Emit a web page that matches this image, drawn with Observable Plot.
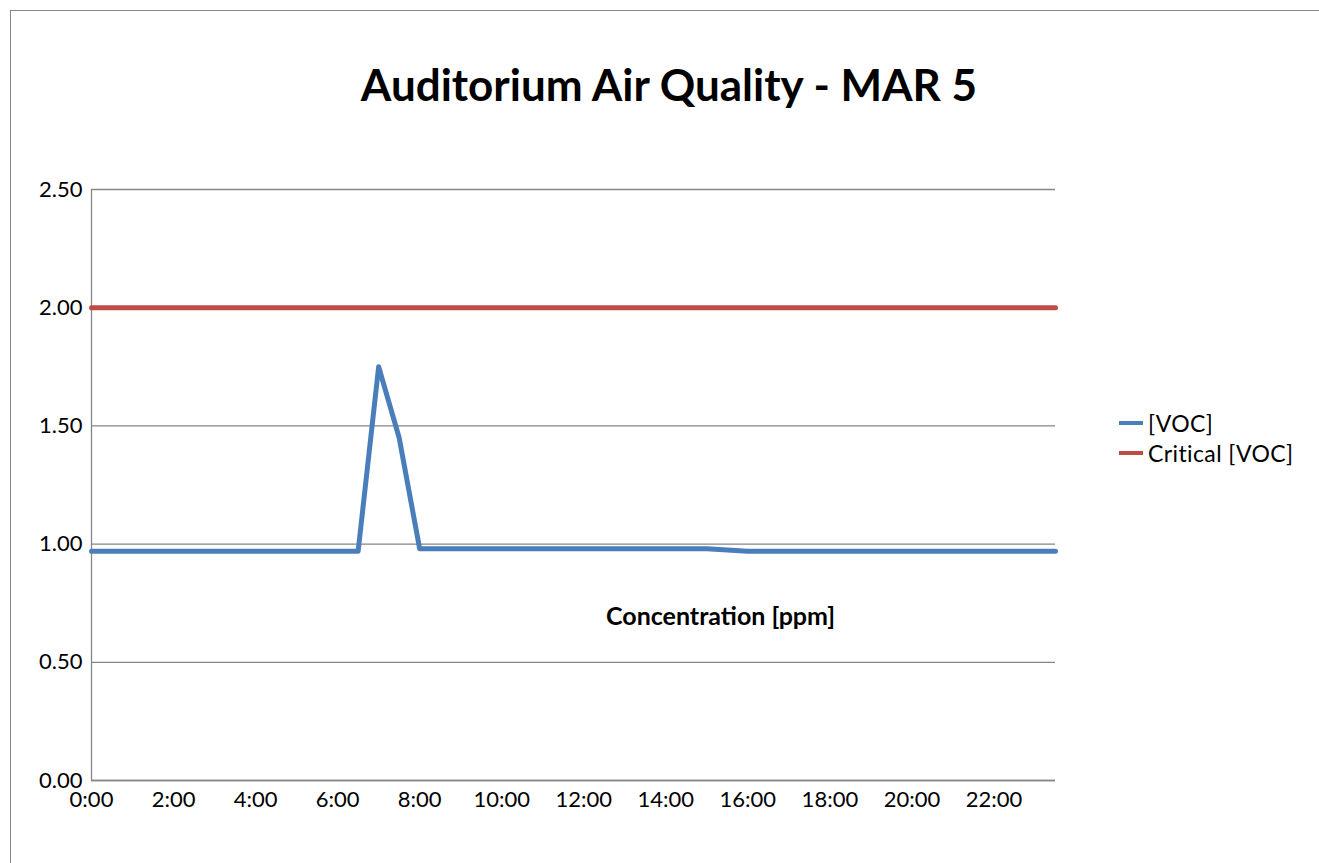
<!DOCTYPE html>
<html>
<head>
<meta charset="utf-8">
<script src="https://cdn.jsdelivr.net/npm/d3@7"></script>
<script src="https://cdn.jsdelivr.net/npm/@observablehq/plot@0.6"></script>
<style>
  html, body { margin: 0; padding: 0; background: #fff; }
  body { width: 1319px; height: 863px; position: relative; overflow: hidden; font-family: Lato, "Open Sans", sans-serif; }
  #frame { position: absolute; left: 10px; top: 10px; width: 1320px; height: 870px; border-left: 1px solid #868686; border-top: 1px solid #868686; }
  #chart { position: absolute; left: 0; top: 0; }
  #title { position: absolute; left: 0; width: 1338px; top: 58px; text-align: center; font-size: 44px; font-weight: bold; color: #000; }
  #ytitle { position: absolute; left: 606px; top: 600px; font-size: 25px; font-weight: bold; color: #000; }
  .leg { position: absolute; left: 1119px; font-size: 23px; color: #000; display: flex; align-items: center; letter-spacing: 0.4px; }
  .leg span.sw { display: inline-block; width: 24px; height: 4px; margin-right: 5px; }
</style>
</head>
<body>
<div id="frame"></div>
<div id="chart"></div>
<div id="title">Auditorium Air Quality - MAR 5</div>
<div id="ytitle">Concentration [ppm]</div>
<div class="leg" style="top:409px"><span class="sw" style="background:#4A7EBB"></span>[VOC]</div>
<div class="leg" style="top:439px"><span class="sw" style="background:#BE4B48"></span>Critical [VOC]</div>
<script>
const times = ["0:00","0:30","1:00","1:30","2:00","2:30","3:00","3:30","4:00","4:30","5:00","5:30",
  "6:00","6:30","7:00","7:30","8:00","8:30","9:00","9:30","10:00","10:30","11:00","11:30",
  "12:00","12:30","13:00","13:30","14:00","14:30","15:00","15:30","16:00","16:30","17:00","17:30",
  "18:00","18:30","19:00","19:30","20:00","20:30","21:00","21:30","22:00","22:30","23:00","23:30"];
const voc = [0.97,0.97,0.97,0.97,0.97,0.97,0.97,0.97,0.97,0.97,0.97,0.97,
  0.97,0.97,1.75,1.45,0.98,0.98,0.98,0.98,0.98,0.98,0.98,0.98,
  0.98,0.98,0.98,0.98,0.98,0.98,0.98,0.975,0.97,0.97,0.97,0.97,
  0.97,0.97,0.97,0.97,0.97,0.97,0.97,0.97,0.97,0.97,0.97,0.97];
const critical = times.map(() => 2.00);
const xTicks = ["0:00","2:00","4:00","6:00","8:00","10:00","12:00","14:00","16:00","18:00","20:00","22:00"];
const yTicks = [0, 0.5, 1.0, 1.5, 2.0, 2.5];

const toHours = s => { const [h, m] = s.split(":").map(Number); return h + m / 60; };
const data = [];
times.forEach((t, i) => {
  data.push({x: toHours(t), y: voc[i], s: "[VOC]"});
  data.push({x: toHours(t), y: critical[i], s: "Critical [VOC]"});
});

const chart = Plot.plot({
  width: 1319, height: 863,
  marginLeft: 91, marginRight: 264, marginTop: 189, marginBottom: 83,
  style: {fontFamily: "Lato, 'Open Sans', sans-serif", fontSize: "22px", color: "#000", background: "transparent"},
  x: {domain: [0, 23.5], ticks: xTicks.map(toHours), tickFormat: d => `${Math.floor(d)}:00`, tickSize: 0, tickPadding: 11, label: null},
  y: {domain: [0, 2.5], ticks: yTicks, tickFormat: d3.format(".2f"), tickSize: 0, tickPadding: 9, label: null},
  color: {domain: ["[VOC]", "Critical [VOC]"], range: ["#4A7EBB", "#BE4B48"]},
  marks: [
    Plot.gridY(yTicks, {stroke: "#868686", strokeOpacity: 1, strokeWidth: 1.3}),
    Plot.ruleX([0], {stroke: "#868686", strokeWidth: 1.3}),
    Plot.ruleY([0], {stroke: "#868686", strokeWidth: 1.3}),
    Plot.line(data, {x: "x", y: "y", z: "s", stroke: "s", strokeWidth: 5, strokeLinejoin: "round", strokeLinecap: "round"})
  ]
});
document.getElementById("chart").appendChild(chart);
</script>
</body>
</html>
